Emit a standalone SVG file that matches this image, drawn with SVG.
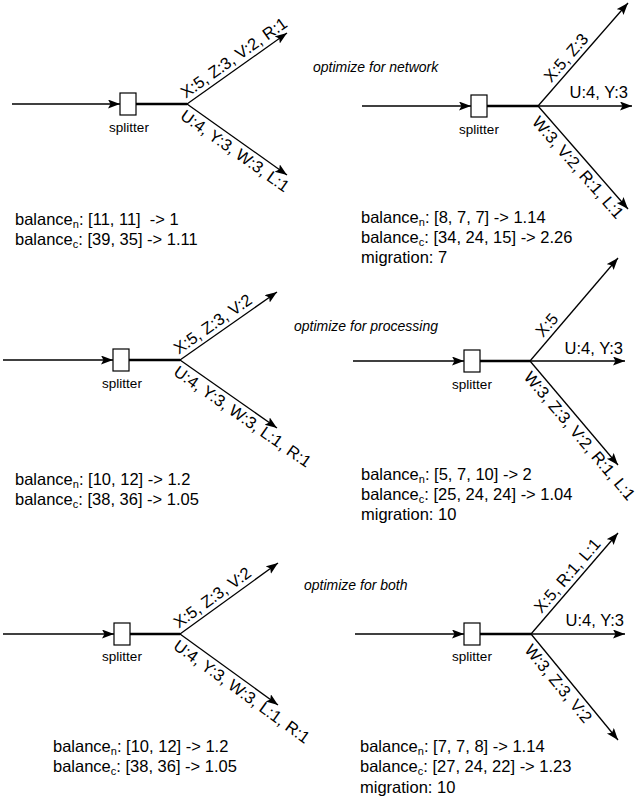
<svg xmlns="http://www.w3.org/2000/svg" width="638" height="800" viewBox="0 0 638 800">
<defs>
<marker id="ah" markerUnits="userSpaceOnUse" markerWidth="13" markerHeight="10" refX="12" refY="4.5" orient="auto">
<path d="M0,0 L12,4.5 L0,9 L2.5,4.5 z" fill="#000"/>
</marker>
<style>
text{font-family:"Liberation Sans",Arial,sans-serif;fill:#000;white-space:pre}
.lb{font-size:16.5px}
.bal{font-size:16.5px}
.sub{font-size:11px}
.sp{font-size:13.5px;text-anchor:middle}
.opt{font-size:14px;font-style:italic}
.ar{stroke:#000;stroke-width:1.3;fill:none;marker-end:url(#ah)}
.thick{stroke:#000;stroke-width:2.5;fill:none}
.box{fill:#fff;stroke:#000;stroke-width:1.2}
</style>
</defs>
<rect width="638" height="800" fill="#fff"/>

<g id="connectors">
<!-- L1 -->
<line class="ar" x1="12" y1="104" x2="120" y2="104"/>
<line class="thick" x1="136" y1="104" x2="187" y2="104"/>
<line class="ar" x1="187" y1="104" x2="287" y2="33"/>
<line class="ar" x1="187" y1="104" x2="287" y2="175"/>
<!-- R1 -->
<line class="ar" x1="362" y1="106" x2="471" y2="106"/>
<line class="thick" x1="487" y1="106" x2="538" y2="106"/>
<line class="ar" x1="538" y1="106" x2="628" y2="3"/>
<line class="ar" x1="538" y1="106" x2="632" y2="106"/>
<line class="ar" x1="538" y1="106" x2="628" y2="209"/>
<!-- L2 -->
<line class="ar" x1="3" y1="360" x2="113" y2="360"/>
<line class="thick" x1="129" y1="360" x2="180" y2="360"/>
<line class="ar" x1="180" y1="360" x2="277" y2="292"/>
<line class="ar" x1="180" y1="360" x2="277" y2="428"/>
<!-- R2 -->
<line class="ar" x1="353" y1="361" x2="464" y2="361"/>
<line class="thick" x1="480" y1="361" x2="530" y2="361"/>
<line class="ar" x1="530" y1="361" x2="618" y2="258"/>
<line class="ar" x1="530" y1="361" x2="625" y2="361"/>
<line class="ar" x1="530" y1="361" x2="618" y2="465"/>
<!-- L3 -->
<line class="ar" x1="3" y1="634" x2="114" y2="634"/>
<line class="thick" x1="130" y1="634" x2="180" y2="634"/>
<line class="ar" x1="180" y1="634" x2="278" y2="563"/>
<line class="ar" x1="180" y1="634" x2="278" y2="705"/>
<!-- R3 -->
<line class="ar" x1="355" y1="634" x2="464" y2="634"/>
<line class="thick" x1="480" y1="634" x2="531" y2="634"/>
<line class="ar" x1="531" y1="634" x2="618" y2="533"/>
<line class="ar" x1="531" y1="634" x2="625" y2="634"/>
<line class="ar" x1="531" y1="634" x2="618" y2="740"/>
</g>

<g id="edge-labels">
<text class="lb" transform="translate(187,104) rotate(-35.37)" x="2" y="-5">X:5, Z:3, V:2, R:1</text>
<text class="lb" transform="translate(187,104) rotate(35.37)" x="2" y="16">U:4, Y:3, W:3, L:1</text>

<text class="lb" transform="translate(538,106) rotate(-48.85)" x="26" y="-5">X:5, Z:3</text>
<text class="lb" x="628" y="98" text-anchor="end">U:4, Y:3</text>
<text class="lb" transform="translate(538,106) rotate(48.85)" x="8" y="16">W:3, V:2, R:1, L:1</text>

<text class="lb" transform="translate(180,360) rotate(-35.03)" x="2" y="-5">X:5, Z:3, V:2</text>
<text class="lb" transform="translate(180,360) rotate(35.03)" x="2" y="16">U:4, Y:3, W:3, L:1, R:1</text>

<text class="lb" transform="translate(530,361) rotate(-49.5)" x="26" y="-5">X:5</text>
<text class="lb" x="623" y="354" text-anchor="end">U:4, Y:3</text>
<text class="lb" transform="translate(530,361) rotate(49.8)" x="8" y="16">W:3, Z:3, V:2, R:1, L:1</text>

<text class="lb" transform="translate(180,634) rotate(-35.92)" x="2" y="-5">X:5, Z:3, V:2</text>
<text class="lb" transform="translate(180,634) rotate(35.92)" x="2" y="16">U:4, Y:3, W:3, L:1, R:1</text>

<text class="lb" transform="translate(531,634) rotate(-49.26)" x="22" y="-5">X:5, R:1, L:1</text>
<text class="lb" x="624" y="626" text-anchor="end">U:4, Y:3</text>
<text class="lb" transform="translate(531,634) rotate(50.6)" x="8" y="16">W:3, Z:3, V:2</text>
</g>

<g id="splitter-L1"><rect class="box" x="120" y="93" width="16" height="22"/><text class="sp" x="129" y="132">splitter</text></g>
<g id="splitter-R1"><rect class="box" x="471" y="95" width="16" height="22"/><text class="sp" x="479" y="134">splitter</text></g>
<g id="splitter-L2"><rect class="box" x="113" y="349" width="16" height="22"/><text class="sp" x="122" y="388">splitter</text></g>
<g id="splitter-R2"><rect class="box" x="464" y="350" width="16" height="22"/><text class="sp" x="472" y="389">splitter</text></g>
<g id="splitter-L3"><rect class="box" x="114" y="623" width="16" height="22"/><text class="sp" x="122" y="661">splitter</text></g>
<g id="splitter-R3"><rect class="box" x="464" y="623" width="16" height="22"/><text class="sp" x="472" y="661">splitter</text></g>

<g id="titles">
<text class="opt" x="313" y="72">optimize for network</text>
<text class="opt" x="294" y="331">optimize for processing</text>
<text class="opt" x="304" y="590">optimize for both</text>
</g>

<g id="stats-L1">
<text class="bal" x="15" y="225">balance<tspan class="sub" dy="3">n</tspan><tspan dy="-3">: [11, 11]  -&gt; 1</tspan></text>
<text class="bal" x="15" y="245">balance<tspan class="sub" dy="3">c</tspan><tspan dy="-3">: [39, 35] -&gt; 1.11</tspan></text>
</g>
<g id="stats-R1">
<text class="bal" x="361" y="223">balance<tspan class="sub" dy="3">n</tspan><tspan dy="-3">: [8, 7, 7] -&gt; 1.14</tspan></text>
<text class="bal" x="361" y="243">balance<tspan class="sub" dy="3">c</tspan><tspan dy="-3">: [34, 24, 15] -&gt; 2.26</tspan></text>
<text class="bal" x="361" y="263">migration: 7</text>
</g>
<g id="stats-L2">
<text class="bal" x="15" y="485">balance<tspan class="sub" dy="3">n</tspan><tspan dy="-3">: [10, 12] -&gt; 1.2</tspan></text>
<text class="bal" x="15" y="505">balance<tspan class="sub" dy="3">c</tspan><tspan dy="-3">: [38, 36] -&gt; 1.05</tspan></text>
</g>
<g id="stats-R2">
<text class="bal" x="361" y="480">balance<tspan class="sub" dy="3">n</tspan><tspan dy="-3">: [5, 7, 10] -&gt; 2</tspan></text>
<text class="bal" x="361" y="500">balance<tspan class="sub" dy="3">c</tspan><tspan dy="-3">: [25, 24, 24] -&gt; 1.04</tspan></text>
<text class="bal" x="361" y="520">migration: 10</text>
</g>
<g id="stats-L3">
<text class="bal" x="53" y="752">balance<tspan class="sub" dy="3">n</tspan><tspan dy="-3">: [10, 12] -&gt; 1.2</tspan></text>
<text class="bal" x="53" y="772">balance<tspan class="sub" dy="3">c</tspan><tspan dy="-3">: [38, 36] -&gt; 1.05</tspan></text>
</g>
<g id="stats-R3">
<text class="bal" x="360" y="752">balance<tspan class="sub" dy="3">n</tspan><tspan dy="-3">: [7, 7, 8] -&gt; 1.14</tspan></text>
<text class="bal" x="360" y="772">balance<tspan class="sub" dy="3">c</tspan><tspan dy="-3">: [27, 24, 22] -&gt; 1.23</tspan></text>
<text class="bal" x="360" y="793">migration: 10</text>
</g>
</svg>
